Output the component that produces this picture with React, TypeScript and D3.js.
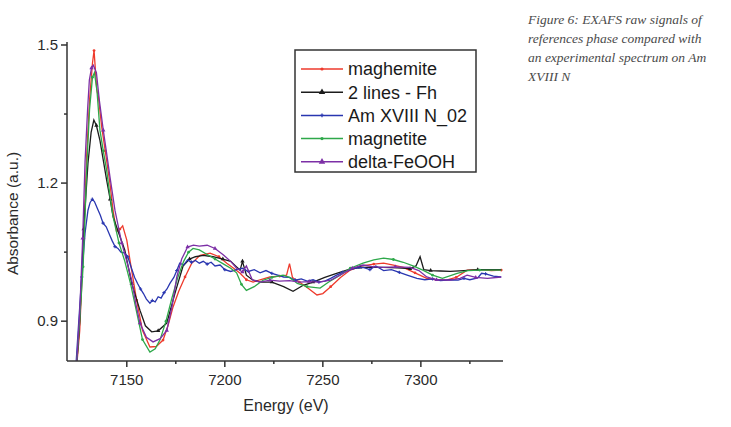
import * as d3 from 'd3'

const width = 731
const height = 427

// plot frame (pixels)
const left = 67
const right = 503
const top = 42
const bottom = 361

const xDomain = [7119.5, 7341.9]
const yDomain = [0.8135, 1.5065]

const xMajor = [7150, 7200, 7250, 7300]
const xMinor = [7175, 7225, 7275, 7325]
const yMajor = [0.9, 1.2, 1.5]
const yMinor = [1.05, 1.35]

const seriesNames = ['maghemite', '2 lines - Fh', 'Am XVIII N_02', 'magnetite', 'delta-FeOOH']
const seriesColors = ['#ee3a2c', '#1c1c1c', '#2936b0', '#2ea84a', '#7c2fa6']

const maghemiteX = [7124, 7126, 7128, 7129.5, 7131, 7132.5, 7133.3, 7134.7, 7135.5, 7137.2, 7139, 7141.4, 7143, 7144.8, 7146.5, 7147.9, 7150, 7151.6, 7155, 7158, 7161.8, 7165, 7168.5, 7171, 7173.6, 7176.5, 7179.7, 7183, 7187.4, 7192.5, 7197, 7201, 7204.5, 7207.8, 7211, 7214.4, 7218, 7223, 7228, 7231.5, 7233, 7234.5, 7238, 7243, 7247, 7250, 7254, 7259, 7264, 7270, 7276, 7281, 7286, 7291, 7297, 7303, 7308, 7313, 7318, 7323.6, 7330, 7336, 7341]
const maghemiteY = [0.78, 0.88, 1.08, 1.257, 1.38, 1.461, 1.488, 1.402, 1.388, 1.322, 1.27, 1.2, 1.14, 1.094, 1.1, 1.107, 1.076, 1.033, 0.946, 0.88, 0.844, 0.845, 0.859, 0.89, 0.931, 0.965, 0.996, 1.025, 1.043, 1.048, 1.04, 1.026, 1.015, 1.004, 0.99, 0.985, 0.99, 0.996, 0.998, 1.0, 1.025, 0.995, 0.985, 0.97, 0.957, 0.96, 0.975, 0.995, 1.011, 1.02, 1.024, 1.026, 1.022, 1.017, 1.005, 0.993, 0.99, 0.989, 0.995, 1.011, 1.012, 1.01, 1.011]

const fhX = [7124, 7126, 7128, 7130.2, 7131.8, 7133.2, 7134.5, 7136.3, 7138, 7139.7, 7141.5, 7143, 7146, 7149, 7152.5, 7156.7, 7159.5, 7162.7, 7166, 7170.4, 7174.6, 7178.7, 7182, 7185, 7189, 7194, 7199, 7203, 7206, 7207.8, 7209, 7211, 7214, 7218, 7224, 7230, 7234.8, 7240, 7245, 7251, 7257, 7263, 7269, 7275, 7281, 7288, 7294.5, 7297.5, 7299.6, 7301.5, 7305, 7310, 7315, 7322, 7329, 7336, 7341]
const fhY = [0.78, 0.9, 1.1, 1.243, 1.31, 1.337, 1.325, 1.293, 1.25, 1.207, 1.165, 1.127, 1.09, 1.054, 0.982, 0.924, 0.89, 0.877, 0.879, 0.896, 0.961, 1.02, 1.035, 1.04, 1.043, 1.04, 1.035, 1.03, 1.018, 1.011, 1.03, 1.0, 0.99, 0.985, 0.985, 0.975, 0.965, 0.978, 0.985, 0.995, 1.004, 1.012, 1.017, 1.017, 1.017, 1.016, 1.014, 1.02, 1.04, 1.012, 1.01, 1.009, 1.008, 1.01, 1.012, 1.012, 1.012]

const amX = [7124, 7125.5, 7127, 7128.7, 7130.2, 7131.3, 7132.4, 7133.5, 7135, 7136.5, 7137.9, 7139.5, 7141, 7142.5, 7144, 7145.5, 7147, 7149, 7150.5, 7152, 7154, 7155.5, 7157, 7158.5, 7160, 7161.8, 7163, 7164.5, 7166, 7167.5, 7169, 7170.5, 7172, 7174, 7175.5, 7177, 7179, 7181, 7183, 7185, 7187, 7189, 7191, 7193, 7195, 7197.6, 7200, 7203, 7206, 7209, 7212, 7215, 7218, 7221, 7224, 7227, 7230, 7233, 7236, 7239, 7242, 7245, 7248, 7251, 7254, 7257, 7260, 7263, 7266, 7270.5, 7274, 7277, 7281, 7285, 7289, 7293, 7298, 7302, 7306, 7310, 7315, 7319, 7322, 7325, 7329, 7331, 7333, 7337, 7341]
const amY = [0.8, 0.9, 0.996, 1.091, 1.141, 1.158, 1.165, 1.16, 1.145, 1.13, 1.113, 1.105, 1.09, 1.075, 1.062, 1.058, 1.05, 1.048, 1.04, 1.02, 0.995, 0.982, 0.97, 0.96, 0.948, 0.939, 0.945, 0.942, 0.953, 0.95, 0.962, 0.97, 0.982, 0.995, 1.01, 1.026, 1.022, 1.033, 1.028, 1.032, 1.026, 1.03, 1.024, 1.028, 1.02, 1.022, 1.012, 1.008, 1.012, 1.015, 1.008, 1.012, 1.005, 1.01, 1.004, 1.0, 0.996, 0.995, 0.989, 0.992, 0.987, 0.99, 0.985, 0.987, 0.993, 1.0, 1.006, 1.01, 1.015, 1.017, 1.012, 1.02, 1.01, 1.012, 1.006, 1.0, 0.993, 0.99, 0.992, 0.988, 0.99, 0.989, 0.993, 0.99, 0.994, 1.004, 1.003, 0.998, 0.996]

const magnetiteX = [7124, 7126.1, 7127.7, 7128.7, 7129.5, 7131, 7132.5, 7133.5, 7134.8, 7136.3, 7138, 7139.7, 7141.5, 7143, 7146, 7149, 7152, 7155, 7158, 7161.8, 7164.5, 7167, 7170, 7173, 7176, 7179, 7181.5, 7183.8, 7187, 7191, 7195, 7199, 7203, 7206, 7208.5, 7211, 7215, 7219.5, 7224, 7229.7, 7233, 7237, 7242, 7248.6, 7253, 7258.8, 7264, 7270.5, 7276, 7281, 7286, 7291, 7296, 7301, 7306, 7311, 7318.5, 7324, 7330, 7336, 7341]
const magnetiteY = [0.78, 0.909, 1.018, 1.127, 1.228, 1.36, 1.43, 1.44, 1.4, 1.315, 1.27, 1.228, 1.17, 1.127, 1.07, 1.03, 0.98, 0.92, 0.86, 0.833, 0.84, 0.86, 0.9, 0.95, 0.995, 1.03, 1.05, 1.058, 1.055, 1.045, 1.035, 1.025, 1.015, 1.005, 0.98, 0.967, 0.975, 0.989, 0.995, 1.0, 0.995, 0.982, 0.975, 0.972, 0.985, 1.0, 1.015, 1.026, 1.033, 1.037, 1.034, 1.028, 1.02, 1.011, 1.0, 0.993, 1.004, 1.01, 1.011, 1.011, 1.011]

const deltaX = [7124, 7126, 7127.5, 7128.7, 7130, 7130.9, 7132, 7132.9, 7134.5, 7136, 7138, 7139.7, 7141.4, 7144, 7147.4, 7150, 7152.5, 7154.5, 7156.7, 7160, 7163.4, 7167, 7170.4, 7173, 7175.5, 7178, 7181, 7184, 7187, 7191, 7195, 7199, 7203, 7206, 7209, 7211, 7214, 7218, 7223, 7228, 7233, 7238, 7243, 7248, 7254, 7260.3, 7265, 7270.5, 7276, 7281, 7287, 7294.5, 7299, 7303, 7308, 7315, 7320, 7323.6, 7328, 7334, 7341]
const deltaY = [0.78, 0.92, 1.08, 1.246, 1.36, 1.424, 1.45, 1.456, 1.44, 1.38, 1.315, 1.265, 1.214, 1.14, 1.07, 1.03, 0.989, 0.94, 0.896, 0.865, 0.855, 0.862, 0.88, 0.93, 0.996, 1.035, 1.061, 1.065, 1.063, 1.065, 1.058, 1.045, 1.03, 1.015, 1.007, 1.02, 0.99, 0.985, 0.989, 0.987, 0.988, 0.985, 0.986, 0.985, 0.989, 1.004, 1.015, 1.022, 1.018, 1.017, 1.018, 1.017, 1.01, 0.996, 0.99, 0.989, 0.993, 1.0, 0.995, 0.993, 0.996]

const seriesX = [maghemiteX, fhX, amX, magnetiteX, deltaX]
const seriesY = [maghemiteY, fhY, amY, magnetiteY, deltaY]
const seriesSymbols = [d3.symbolCircle, d3.symbolTriangle, d3.symbolCross, d3.symbolCircle, d3.symbolTriangle]

const captionLines = [
  'Figure 6: EXAFS raw signals of',
  'references phase compared with',
  'an experimental spectrum on Am',
  'XVIII N',
]

export default function App() {
  const x = d3.scaleLinear(xDomain, [left, right])
  const y = d3.scaleLinear(yDomain, [bottom, top])

  const line = d3
    .line<[number, number]>()
    .x(d => x(d[0]))
    .y(d => y(d[1]))

  const sans = 'Arial, "Liberation Sans", sans-serif'
  const axisColor = '#333'

  return (
    <svg
      width={width}
      height={height}
      viewBox={`0 0 ${width} ${height}`}
      style={{ position: 'absolute', left: 0, top: 0, background: '#fff' }}
    >
      <defs>
        <clipPath id="plot">
          <rect x={left} y={top} width={right - left} height={bottom - top} />
        </clipPath>
      </defs>

      {/* series */}
      <g clipPath="url(#plot)">
        {seriesX.map((xs, i) => {
          const pts = xs.map((v, j) => [v, seriesY[i][j]] as [number, number])
          const sym = d3.symbol(seriesSymbols[i], i === 1 || i === 4 ? 8 : 6)()
          return (
            <g key={seriesNames[i]}>
              <path d={line(pts) ?? ''} fill="none" stroke={seriesColors[i]} strokeWidth={1.3} />
              {pts
                .filter((_, j) => j % 4 === 2)
                .map((p, j) => (
                  <path
                    key={j}
                    d={sym ?? ''}
                    transform={`translate(${x(p[0])},${y(p[1])})`}
                    fill={seriesColors[i]}
                  />
                ))}
            </g>
          )
        })}
      </g>

      {/* axes */}
      <g stroke={axisColor} strokeWidth={1.5}>
        <line x1={left} x2={left} y1={top} y2={bottom} />
        <line x1={left} x2={right} y1={bottom} y2={bottom} />
        {yMajor.map(v => (
          <line key={v} x1={left - 6} x2={left} y1={y(v)} y2={y(v)} />
        ))}
        {yMinor.map(v => (
          <line key={v} x1={left - 3} x2={left} y1={y(v)} y2={y(v)} />
        ))}
        {xMajor.map(v => (
          <line key={v} x1={x(v)} x2={x(v)} y1={bottom} y2={bottom + 6} />
        ))}
        {xMinor.map(v => (
          <line key={v} x1={x(v)} x2={x(v)} y1={bottom} y2={bottom + 3} />
        ))}
      </g>

      <g fontFamily={sans} fontSize={15} fill="#2a2a2a">
        {yMajor.map(v => (
          <text key={v} x={left - 9} y={y(v)} dy="0.35em" textAnchor="end">
            {d3.format('.1f')(v)}
          </text>
        ))}
        {xMajor.map(v => (
          <text key={v} x={x(v)} y={bottom + 24} textAnchor="middle">
            {v}
          </text>
        ))}
        <text x={286} y={411} textAnchor="middle" fontSize={16}>
          Energy (eV)
        </text>
        <text
          transform={`translate(18,${(top + bottom) / 2 + 12}) rotate(-90)`}
          textAnchor="middle"
          fontSize={15.5}
        >
          Absorbance (a.u.)
        </text>
      </g>

      {/* legend */}
      <g>
        <rect x={295} y={50} width={181} height={122} fill="#fff" stroke={axisColor} strokeWidth={1.5} />
        {seriesNames.map((name, i) => {
          const cy = 69 + i * 23.2
          const sym = d3.symbol(seriesSymbols[i], i === 1 || i === 4 ? 18 : 8)()
          return (
            <g key={name}>
              <line x1={301} x2={343} y1={cy} y2={cy} stroke={seriesColors[i]} strokeWidth={1.5} />
              <path d={sym ?? ''} transform={`translate(322,${cy})`} fill={seriesColors[i]} />
              <text x={348} y={cy} dy="0.36em" fontFamily={sans} fontSize={18} fill="#1a1a1a">
                {name}
              </text>
            </g>
          )
        })}
      </g>

      {/* caption */}
      <g fontFamily='"Liberation Serif", "DejaVu Serif", serif' fontStyle="italic" fontSize={13.5} fill="#4a4a4a">
        {captionLines.map((t, i) => (
          <text key={i} x={528} y={24 + i * 19}>
            {t}
          </text>
        ))}
      </g>
    </svg>
  )
}
